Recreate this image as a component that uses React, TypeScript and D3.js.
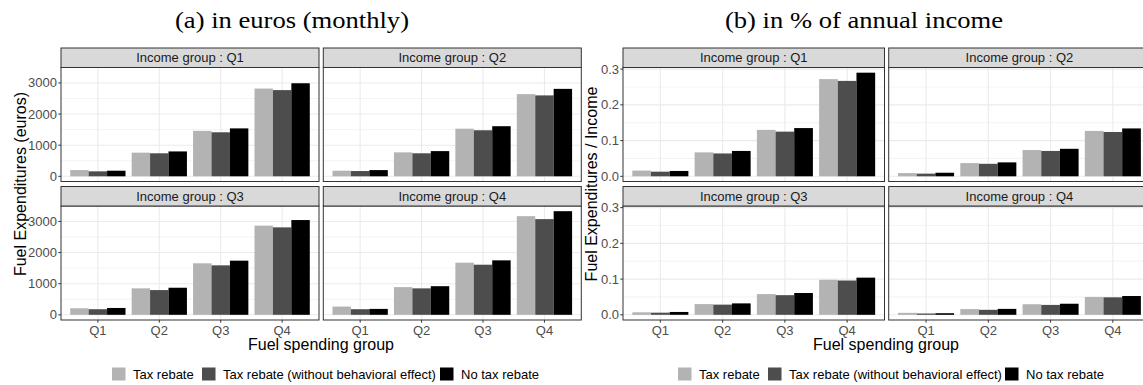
import React from "react";
import * as d3 from "d3";

const fuelGroups = ["Q1", "Q2", "Q3", "Q4"];
const incomeGroups = ["Q1", "Q2", "Q3", "Q4"];
const seriesNames = ["Tax rebate", "Tax rebate (without behavioral effect)", "No tax rebate"];
const seriesColors = ["#B3B3B3", "#4D4D4D", "#000000"];

// Euros (monthly) — rows: income group Q1..Q4, cols: fuel spending group Q1..Q4
const eurosTaxRebate = [
  [200, 760, 1460, 2820],
  [180, 770, 1530, 2640],
  [210, 850, 1655, 2865],
  [265, 890, 1675, 3170],
];
const eurosNoBehavior = [
  [160, 740, 1415, 2770],
  [170, 740, 1480, 2600],
  [180, 795, 1590, 2810],
  [180, 850, 1610, 3075],
];
const eurosNoRebate = [
  [180, 800, 1540, 2990],
  [200, 810, 1610, 2810],
  [220, 870, 1740, 3045],
  [190, 920, 1750, 3330],
];

// Share of annual income
const shareTaxRebate = [
  [0.016, 0.067, 0.13, 0.272],
  [0.009, 0.037, 0.0735, 0.127],
  [0.007, 0.03, 0.058, 0.098],
  [0.0055, 0.016, 0.0296, 0.05],
];
const shareNoBehavior = [
  [0.013, 0.064, 0.125, 0.267],
  [0.0075, 0.035, 0.071, 0.124],
  [0.006, 0.0285, 0.055, 0.096],
  [0.0037, 0.014, 0.0277, 0.049],
];
const shareNoRebate = [
  [0.015, 0.071, 0.135, 0.29],
  [0.01, 0.039, 0.077, 0.134],
  [0.008, 0.032, 0.061, 0.104],
  [0.0045, 0.0166, 0.031, 0.0526],
];

const eurosTicks = [0, 1000, 2000, 3000];
const shareTicks = [0, 0.1, 0.2, 0.3];

const SANS = "'Liberation Sans', Arial, Helvetica, sans-serif";
const SERIF = "'Liberation Serif', 'DejaVu Serif', serif";

const ROW_STRIP_TOPS = [48, 186.5];
const STRIP_H = 19.5;
const PANEL_H = 114;

type FigProps = {
  series: number[][][];
  ticks: number[];
  fmt: (v: number) => string;
  colLefts: number[];
  panelW: number;
  title: string;
  titleX: number;
  titleW: number;
  yTitle: string;
  yTitleX: number;
  xTitleX: number;
  legendSquares: number[];
};

function Figure(p: FigProps) {
  const maxV = d3.max(p.series.flat(2)) as number;
  const domain: [number, number] = [-0.05 * maxV, 1.05 * maxV];
  const step = p.ticks[1] - p.ticks[0];
  const minor = [p.ticks[0] - step / 2, ...p.ticks.map((t) => t + step / 2)].filter(
    (v) => v > domain[0] && v < domain[1]
  );
  const panels: JSX.Element[] = [];
  incomeGroups.forEach((ig, gi) => {
    const r = Math.floor(gi / 2);
    const c = gi % 2;
    const left = p.colLefts[c];
    const right = left + p.panelW;
    const stripTop = ROW_STRIP_TOPS[r];
    const top = stripTop + STRIP_H;
    const bottom = top + PANEL_H;
    const x = d3.scalePoint<string>().domain(fuelGroups).range([left, right]).padding(0.6);
    const unit = x.step();
    const y = d3.scaleLinear().domain(domain).range([bottom, top]);
    const bw = unit * 0.3;
    panels.push(
      <g key={ig}>
        <rect x={left} y={top} width={p.panelW} height={PANEL_H} fill="#FFFFFF" />
        {minor.map((v) => (
          <line key={"mn" + v} x1={left} x2={right} y1={y(v)} y2={y(v)} stroke="#EBEBEB" strokeWidth={0.6} />
        ))}
        {p.ticks.map((v) => (
          <line key={"mj" + v} x1={left} x2={right} y1={y(v)} y2={y(v)} stroke="#EBEBEB" strokeWidth={1.1} />
        ))}
        {fuelGroups.map((f) => (
          <line key={"vx" + f} x1={x(f)} x2={x(f)} y1={top} y2={bottom} stroke="#EBEBEB" strokeWidth={1.1} />
        ))}
        {p.series.map((s, si) =>
          fuelGroups.map((f, fi) => {
            const v = s[gi][fi];
            const cx = (x(f) as number) + (si - 1) * bw;
            return (
              <rect
                key={si + "-" + f}
                x={cx - bw / 2}
                y={y(v)}
                width={bw}
                height={y(0) - y(v)}
                fill={seriesColors[si]}
              />
            );
          })
        )}
        <rect x={left} y={top} width={p.panelW} height={PANEL_H} fill="none" stroke="#333333" strokeWidth={1} />
        <rect x={left} y={stripTop} width={p.panelW} height={STRIP_H} fill="#D9D9D9" stroke="#333333" strokeWidth={1} />
        <text
          x={(left + right) / 2}
          y={stripTop + STRIP_H / 2 + 4.6}
          textAnchor="middle"
          fontFamily={SANS}
          fontSize={13}
          fill="#1A1A1A"
        >
          {"Income group : " + ig}
        </text>
        {c === 0 &&
          p.ticks.map((v) => (
            <g key={"yt" + v}>
              <line x1={left - 2.7} x2={left} y1={y(v)} y2={y(v)} stroke="#333333" strokeWidth={1} />
              <text x={left - 4} y={y(v) + 4.5} textAnchor="end" fontFamily={SANS} fontSize={13} fill="#4D4D4D">
                {p.fmt(v)}
              </text>
            </g>
          ))}
        {r === 1 &&
          fuelGroups.map((f) => (
            <g key={"xt" + f}>
              <line x1={x(f)} x2={x(f)} y1={bottom} y2={bottom + 2.7} stroke="#333333" strokeWidth={1} />
              <text x={x(f)} y={bottom + 14.5} textAnchor="middle" fontFamily={SANS} fontSize={13} fill="#4D4D4D">
                {f}
              </text>
            </g>
          ))}
      </g>
    );
  });

  return (
    <g>
      <text
        x={p.titleX - p.titleW / 2}
        y={28}
        textLength={p.titleW}
        lengthAdjust="spacingAndGlyphs"
        fontFamily={SERIF}
        fontSize={24}
        fill="#000"
      >
        {p.title}
      </text>
      {panels}
      <text
        transform={`translate(${p.yTitleX},${(ROW_STRIP_TOPS[0] + ROW_STRIP_TOPS[1] + STRIP_H + PANEL_H) / 2}) rotate(-90)`}
        textAnchor="middle"
        dominantBaseline="central"
        fontFamily={SANS}
        fontSize={16}
        fill="#000"
      >
        {p.yTitle}
      </text>
      <text x={p.xTitleX} y={350} textAnchor="middle" fontFamily={SANS} fontSize={16} fill="#000">
        Fuel spending group
      </text>
      {seriesNames.map((n, si) => (
        <g key={n}>
          <rect x={p.legendSquares[si]} y={367.5} width={13.5} height={13} fill={seriesColors[si]} />
          <text x={p.legendSquares[si] + 21} y={378.5} fontFamily={SANS} fontSize={13} fill="#000">
            {n}
          </text>
        </g>
      ))}
    </g>
  );
}

export default function App() {
  return (
    <div style={{ position: "fixed", left: 0, top: 0, width: 1143, height: 385, background: "#fff" }}>
      <svg width={1143} height={385} viewBox="0 0 1143 385" style={{ display: "block" }}>
        <rect width={1143} height={385} fill="#FFFFFF" />
        <Figure
          series={[eurosTaxRebate, eurosNoBehavior, eurosNoRebate]}
          ticks={eurosTicks}
          fmt={(v) => d3.format("d")(v)}
          colLefts={[61, 323.3]}
          panelW={258}
          title="(a) in euros (monthly)"
          titleX={292}
          titleW={234}
          yTitle="Fuel Expenditures (euros)"
          yTitleX={20}
          xTitleX={321}
          legendSquares={[112, 202, 440]}
        />
        <Figure
          series={[shareTaxRebate, shareNoBehavior, shareNoRebate]}
          ticks={shareTicks}
          fmt={(v) => d3.format(".1f")(v)}
          colLefts={[623, 888.7]}
          panelW={261.5}
          title="(b) in % of annual income"
          titleX={864}
          titleW={278}
          yTitle="Fuel Expenditures / Income"
          yTitleX={591}
          xTitleX={886}
          legendSquares={[678, 768, 1005]}
        />
      </svg>
    </div>
  );
}
